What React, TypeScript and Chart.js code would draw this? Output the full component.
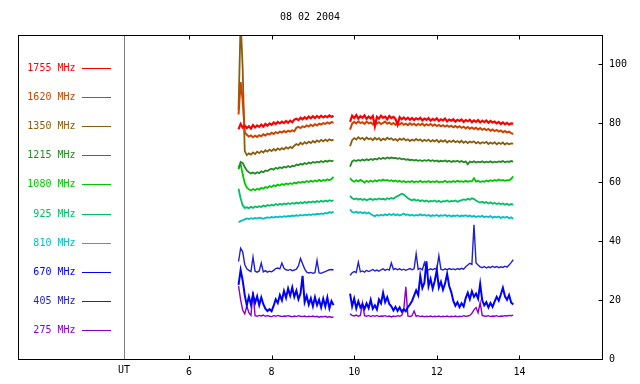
import React, { useEffect, useRef } from 'react';
import { Chart, registerables } from 'chart.js';

Chart.register(...registerables);

// ---------- axis / layout constants ----------
const TITLE = '08 02 2004';
const X_MIN = 1.86;
const X_MAX = 16.0;
const Y_MIN = 0;
const Y_MAX = 110;
const X_TICKS = [6, 8, 10, 12, 14];
const X_TOP_TICKS = [6, 8, 10, 12, 14];
const Y_TICKS = [0, 20, 40, 60, 80, 100];
const UT_HOUR = 4.43;
const UT_LABEL = 'UT';

// sampling of the two observation segments (hours UT)
const SEG1_START = 7.2;
const SEG2_START = 9.9;
const STEP = 0.05;
const GAP_AT = 9.7;

// ---------- series values (sfu) ----------
// segment 1: 7.20 .. 9.50 h ; segment 2: 9.90 .. 13.85 h
const f1755a = [78.0, 79.8, 78.6, 79.2, 78.4, 79.0, 78.2, 79.4, 78.6, 79.3, 78.8, 79.6, 78.9, 79.8, 79.2, 80.0, 79.5, 80.3, 79.8, 80.5, 80.0, 80.6, 80.1, 80.8, 80.2, 80.9, 80.4, 81.3, 81.6, 81.1, 81.9, 81.4, 82.1, 81.5, 82.3, 81.7, 82.4, 81.8, 82.5, 81.9, 82.6, 82.0, 82.5, 82.1, 82.7, 82.2, 82.6];
const f1755b = [
  80.5, 82.6, 81.8, 82.8, 81.6, 82.4, 81.9, 82.7, 81.5, 82.3,
  81.7, 82.5, 79.0, 82.2, 81.6, 82.6, 81.9, 82.3, 81.4, 82.5,
  81.8, 82.2, 81.5, 79.5, 82.1, 81.4, 82.0, 81.3, 81.9, 81.2,
  81.8, 81.1, 81.7, 81.3, 81.9, 81.0, 81.6, 81.2, 81.8, 80.9,
  81.5, 81.1, 81.7, 80.8, 81.4, 81.0, 81.6, 80.7, 81.3, 80.9,
  81.4, 80.6, 81.2, 80.8, 81.3, 80.5, 81.1, 80.7, 81.2, 80.4,
  81.0, 80.5, 81.1, 80.3, 80.9, 80.4, 81.0, 80.2, 80.8, 80.3,
  80.6, 80.0, 80.5, 79.8, 80.3, 79.7, 80.2, 79.6, 80.0, 79.9];

const f1620a = [83.0, 94.0, 88.0, 77.0, 76.1, 75.5, 75.9, 75.3, 75.8, 75.4, 76.0, 75.6, 76.3, 75.9, 76.5, 76.2, 76.8, 76.4, 77.0, 76.7, 77.2, 76.9, 77.4, 77.0, 77.5, 77.2, 77.6, 77.3, 78.5, 78.8, 78.4, 79.0, 78.7, 79.3, 78.9, 79.5, 79.1, 79.7, 79.3, 79.9, 79.6, 80.1, 79.8, 80.3, 79.9, 80.4, 80.2];
const f1620b = [
  77.9, 79.9, 80.5, 80.0, 80.7, 80.1, 80.4, 79.8, 80.6, 80.0,
  80.3, 79.7, 80.5, 79.9, 80.4, 79.8, 80.2, 80.6, 79.9, 80.3,
  79.7, 80.1, 79.5, 80.0, 79.6, 80.2, 79.5, 79.9, 79.4, 80.0,
  79.5, 79.9, 79.3, 79.8, 79.4, 79.9, 79.2, 79.7, 79.3, 79.8,
  79.2, 79.6, 79.1, 79.5, 79.0, 79.4, 78.9, 79.3, 78.8, 79.2,
  78.7, 79.1, 78.6, 79.0, 78.5, 78.9, 78.3, 78.8, 78.2, 78.6,
  78.1, 78.5, 77.9, 78.4, 77.8, 78.2, 77.7, 78.1, 77.5, 77.9,
  77.4, 77.8, 77.2, 77.6, 77.0, 77.4, 76.9, 77.2, 76.7, 76.4];

const f1350a = [84.6, 115.0, 98.6, 70.6, 69.2, 69.8, 69.4, 70.1, 69.6, 70.4, 69.9, 70.6, 70.1, 70.9, 70.4, 71.1, 70.6, 71.3, 70.8, 71.5, 71.0, 71.6, 71.2, 71.9, 71.4, 72.0, 71.6, 72.4, 73.0, 72.6, 73.4, 72.9, 73.6, 73.1, 73.8, 73.3, 74.0, 73.5, 74.2, 73.7, 74.4, 73.9, 74.5, 74.0, 74.6, 74.2, 74.5];
const f1350b = [
  72.2, 74.3, 75.0, 74.5, 75.3, 74.7, 75.1, 74.4, 75.2, 74.6,
  74.9, 74.3, 75.1, 74.5, 75.0, 74.2, 74.8, 74.4, 75.1, 74.6,
  74.9, 74.3, 74.7, 74.1, 74.8, 74.4, 74.9, 74.2, 74.6, 74.0,
  74.5, 74.1, 74.7, 74.2, 74.6, 73.9, 74.4, 74.0, 74.5, 73.8,
  74.3, 73.9, 74.4, 73.6, 74.2, 73.8, 74.3, 73.5, 74.1, 73.7,
  74.2, 73.6, 74.0, 73.5, 74.1, 73.4, 73.9, 73.3, 73.8, 73.5,
  73.9, 73.2, 73.7, 73.1, 73.6, 73.3, 73.7, 73.0, 73.5, 73.1,
  73.6, 72.9, 73.4, 73.0, 73.5, 72.8, 73.3, 72.9, 73.2, 73.1];

const f1215a = [64.4, 66.9, 66.6, 65.2, 64.0, 63.4, 63.0, 63.3, 62.9, 63.4, 63.1, 63.7, 63.4, 64.0, 63.8, 64.3, 64.6, 64.3, 64.9, 64.6, 65.1, 64.8, 65.3, 65.0, 65.5, 65.1, 65.6, 65.4, 66.0, 65.8, 66.3, 66.0, 66.5, 66.2, 66.7, 66.4, 66.9, 66.6, 67.0, 66.7, 67.2, 66.8, 67.3, 67.0, 67.4, 67.1, 67.4];
const f1215b = [
  65.3, 67.1, 67.5, 67.2, 67.6, 67.3, 67.7, 67.4, 67.8, 67.5,
  67.9, 67.6, 68.0, 67.7, 68.2, 67.9, 68.3, 68.0, 68.4, 68.1,
  68.4, 68.2, 68.3, 68.0, 68.2, 67.8, 68.0, 67.6, 67.8, 67.5,
  67.7, 67.4, 67.6, 67.3, 67.5, 67.2, 67.5, 67.3, 67.6, 67.2,
  67.5, 67.1, 67.4, 67.0, 67.3, 67.1, 67.4, 67.0, 67.3, 66.9,
  67.2, 67.0, 67.3, 66.9, 67.2, 66.8, 67.1, 66.1, 67.0, 66.8,
  67.1, 66.7, 67.0, 66.8, 67.1, 66.7, 67.0, 66.8, 67.1, 66.7,
  67.0, 66.8, 67.1, 66.9, 67.2, 66.8, 67.1, 66.9, 67.2, 67.0];

const f1080a = [65.2, 66.2, 62.7, 59.7, 58.2, 57.6, 57.2, 57.7, 57.3, 57.8, 57.5, 58.1, 57.8, 58.4, 58.1, 58.7, 58.4, 59.0, 58.7, 59.2, 58.9, 59.4, 59.1, 59.6, 59.3, 59.7, 59.4, 59.9, 59.6, 60.1, 59.8, 60.2, 59.9, 60.4, 60.1, 60.5, 60.2, 60.6, 60.3, 60.8, 60.4, 60.8, 60.5, 61.0, 60.7, 61.1, 61.8];
const f1080b = [
  61.4, 60.6, 60.2, 60.7, 60.3, 60.8, 60.4, 59.9, 60.5, 60.1,
  60.6, 60.2, 60.7, 60.3, 60.8, 60.5, 60.9, 60.6, 60.8, 60.4,
  60.7, 60.3, 60.6, 60.2, 60.5, 60.1, 60.4, 60.0, 60.3, 60.1,
  60.4, 60.0, 60.3, 60.1, 60.5, 60.0, 60.3, 60.1, 60.4, 60.0,
  60.3, 60.1, 60.4, 60.0, 60.2, 60.1, 60.5, 60.0, 60.3, 60.1,
  60.4, 60.1, 60.5, 60.2, 60.4, 60.1, 60.5, 60.2, 60.4, 60.3,
  61.4, 60.2, 60.5, 60.1, 60.4, 60.2, 60.6, 60.3, 60.7, 60.4,
  60.8, 60.5, 60.9, 60.6, 60.8, 60.5, 60.7, 60.6, 61.2, 62.0];

const f925a = [57.8, 54.5, 52.2, 51.3, 51.5, 51.2, 51.7, 51.3, 51.8, 51.5, 51.9, 51.6, 52.1, 51.8, 52.3, 52.0, 52.4, 52.1, 52.6, 52.3, 52.7, 52.4, 52.8, 52.5, 52.9, 52.6, 53.0, 52.7, 53.1, 52.8, 53.2, 52.9, 53.3, 53.0, 53.4, 53.1, 53.5, 53.2, 53.6, 53.3, 53.7, 53.4, 53.8, 53.5, 53.9, 53.6, 53.9];
const f925b = [
  55.4, 54.6, 54.2, 54.5, 54.1, 54.4, 54.0, 54.3, 53.9, 54.2,
  54.4, 54.0, 54.3, 54.1, 54.5, 54.2, 54.4, 54.1, 54.6, 54.3,
  54.7, 54.4, 54.9, 55.3, 55.7, 56.1, 55.8, 55.2, 54.6, 54.2,
  53.9, 54.2, 53.8, 54.0, 53.6, 53.9, 53.5, 53.8, 53.4, 53.7,
  53.5, 53.8, 53.4, 53.7, 53.3, 53.6, 53.5, 53.8, 53.4, 53.7,
  53.5, 53.8, 53.4, 53.7, 53.9, 54.2, 54.0, 54.4, 54.1, 54.6,
  54.3, 53.8, 53.4, 53.1, 53.4, 53.0, 53.3, 52.8, 53.2, 52.7,
  53.0, 52.6, 52.9, 52.5, 52.8, 52.4, 52.7, 52.3, 52.6, 52.4];

const f810a = [46.4, 46.8, 47.1, 47.4, 47.7, 47.5, 47.8, 47.6, 47.9, 47.7, 48.0, 47.8, 47.6, 47.9, 48.1, 47.9, 48.2, 48.0, 48.3, 48.1, 48.4, 48.2, 48.5, 48.3, 48.6, 48.4, 48.7, 48.5, 48.8, 48.6, 48.9, 48.7, 49.0, 48.8, 49.1, 48.9, 49.2, 49.0, 49.3, 49.1, 49.4, 49.2, 49.6, 49.4, 49.9, 49.6, 50.1];
const f810b = [
  50.8, 49.9, 49.7, 50.0, 49.6, 49.9, 49.5, 49.8, 49.4, 49.7,
  49.2, 48.8, 48.5, 48.9, 48.6, 49.0, 48.7, 49.1, 48.8, 49.2,
  48.9, 49.2, 48.8, 49.1, 48.7, 49.0, 49.4, 48.9, 49.1, 48.7,
  49.0, 48.6, 48.9, 48.7, 49.1, 48.7, 49.0, 48.6, 48.9, 48.5,
  48.8, 48.6, 48.9, 48.5, 48.8, 48.6, 48.9, 48.5, 48.8, 48.4,
  48.7, 48.5, 48.8, 48.4, 48.7, 48.5, 48.8, 48.4, 48.7, 48.3,
  48.6, 48.2, 48.5, 48.3, 48.6, 48.1, 48.4, 48.2, 48.5, 48.0,
  48.3, 48.1, 48.4, 47.9, 48.2, 48.0, 48.3, 47.8, 48.1, 47.6];

const f670a = [25.2, 30.2, 26.7, 21.7, 18.2, 21.2, 18.5, 21.9, 19.0, 21.3, 18.3, 20.9, 18.6, 17.1, 16.3, 16.9, 16.2, 18.1, 20.3, 19.0, 21.7, 19.9, 23.1, 20.8, 23.9, 21.5, 24.3, 21.1, 23.2, 20.3, 22.2, 28.2, 19.3, 21.4, 18.5, 20.6, 17.9, 21.0, 18.3, 20.1, 17.5, 20.5, 17.8, 20.9, 17.2, 19.7, 18.3];
const f670b = [
  22.2, 17.9, 20.5, 17.2, 19.6, 17.5, 18.6, 17.0, 18.9, 17.3,
  20.1, 17.1, 18.2, 16.8, 20.2, 18.9, 22.5, 19.3, 21.0, 18.7,
  17.9, 16.5, 17.7, 16.3, 17.5, 16.1, 16.9, 16.2, 17.6, 18.5,
  19.7, 21.5, 23.3, 21.7, 28.2, 24.1, 25.9, 33.2, 24.7, 27.2,
  23.9, 26.5, 30.2, 24.3, 26.2, 23.5, 25.6, 28.9, 24.8, 22.7,
  19.7, 18.1, 19.3, 17.6, 18.9, 17.8, 20.7, 22.5, 20.3, 23.0,
  21.1, 22.2, 20.5, 25.5, 19.9, 18.2, 19.3, 17.5, 19.0, 17.7,
  19.5, 21.1, 19.8, 21.9, 24.2, 21.3, 20.1, 21.7, 19.2, 18.5];

const f405a = [33.1, 37.6, 36.4, 32.1, 30.6, 30.1, 29.7, 34.6, 29.8, 29.5, 29.9, 32.6, 29.6, 30.0, 29.5, 29.8, 29.6, 30.1, 30.7, 30.9, 30.6, 32.6, 30.8, 30.3, 30.1, 30.4, 30.0, 30.2, 30.5, 31.6, 34.1, 32.3, 30.6, 29.5, 29.2, 29.4, 29.1, 29.3, 33.5, 29.2, 29.1, 29.4, 29.7, 30.0, 30.3, 30.4, 30.2];
const f405b = [
  28.4, 29.3, 29.7, 29.4, 32.9, 29.6, 29.9, 29.5, 30.1, 29.7,
  30.0, 30.4, 29.9, 30.2, 29.8, 30.3, 30.6, 30.1, 30.5, 30.2,
  32.6, 30.4, 30.7, 30.3, 30.6, 30.2, 30.5, 30.1, 30.4, 30.7,
  30.3, 30.6, 35.7, 30.4, 30.8, 30.3, 32.7, 30.5, 30.2, 30.6,
  30.3, 30.7, 30.4, 35.1, 30.5, 30.2, 30.6, 30.3, 30.7, 30.4,
  30.6, 30.3, 30.7, 30.4, 30.8, 30.5, 31.3, 31.9, 32.5, 32.1,
  45.6, 32.6, 31.9, 31.3, 31.0, 31.4, 30.9, 31.3, 31.0, 31.5,
  31.1, 31.4, 31.0, 31.3, 31.1, 31.5, 31.2, 31.9, 32.7, 33.7];

const f275a = [24.8, 20.1, 16.6, 15.3, 18.0, 15.7, 14.8, 22.8, 14.7, 14.5, 14.8, 14.6, 14.9, 14.5, 14.7, 14.5, 14.4, 14.7, 14.5, 14.8, 14.6, 14.4, 14.6, 14.5, 14.7, 14.5, 14.3, 14.6, 14.4, 14.7, 14.5, 14.4, 14.6, 14.3, 14.5, 14.4, 14.6, 14.3, 14.5, 14.2, 14.4, 14.3, 14.5, 14.2, 14.4, 14.1, 14.3];
const f275b = [
  15.3, 14.8, 14.6, 14.9, 14.5, 14.8, 19.0, 14.7, 14.5, 14.8,
  14.4, 14.7, 14.5, 14.8, 14.4, 14.6, 14.5, 14.7, 14.4, 14.6,
  14.3, 14.6, 14.4, 14.7, 14.5, 14.8, 16.7, 24.5, 14.6, 14.4,
  14.7, 16.3, 14.5, 14.7, 14.4, 14.6, 14.3, 14.5, 14.4, 14.6,
  14.3, 14.5, 14.4, 14.6, 14.3, 14.5, 14.4, 14.6, 14.3, 14.5,
  14.4, 14.6, 14.3, 14.5, 14.4, 14.7, 14.5, 14.6, 14.8, 15.5,
  16.7, 17.5, 15.7, 19.1, 14.8, 14.6, 14.5, 14.7, 14.4, 14.6,
  14.5, 14.7, 14.4, 14.6, 14.5, 14.7, 14.6, 14.8, 14.7, 14.9];

const LABELS = ['1755 MHz', '1620 MHz', '1350 MHz', '1215 MHz', '1080 MHz', '925 MHz', '810 MHz', '670 MHz', '405 MHz', '275 MHz'];
const COLORS = ['#ff0000', '#cc4400', '#8a5c0c', '#238b23', '#00c800', '#00c064', '#00c0c0', '#0000ff', '#2222cc', '#8800cc'];
const WIDTHS = [2.2, 2, 1.8, 1.8, 1.8, 1.8, 1.8, 2, 1.4, 1.4];
const SEG1 = [f1755a, f1620a, f1350a, f1215a, f1080a, f925a, f810a, f670a, f405a, f275a];
const SEG2 = [f1755b, f1620b, f1350b, f1215b, f1080b, f925b, f810b, f670b, f405b, f275b];

const FONT = "'DejaVu Sans Mono', 'Liberation Mono', monospace";

function buildPoints(a: number[], b: number[]) {
  const pts: { x: number; y: number | null }[] = [];
  a.forEach((v, i) => pts.push({ x: +(SEG1_START + i * STEP).toFixed(3), y: v }));
  pts.push({ x: GAP_AT, y: null });
  b.forEach((v, j) => pts.push({ x: +(SEG2_START + j * STEP).toFixed(3), y: v }));
  return pts;
}

const decorPlugin = {
  id: 'decor',
  beforeDatasetsDraw(chart: any) {
    const { ctx, chartArea: a, scales } = chart;
    ctx.save();
    // UT separator line
    const ux = Math.round(scales.x.getPixelForValue(UT_HOUR)) + 0.5;
    ctx.strokeStyle = '#808080';
    ctx.lineWidth = 1;
    ctx.beginPath();
    ctx.moveTo(ux, a.top);
    ctx.lineTo(ux, a.bottom);
    ctx.stroke();
    // legend (label + colour sample), inside the plot frame on the left
    ctx.font = `10px ${FONT}`;
    ctx.textAlign = 'right';
    ctx.textBaseline = 'middle';
    LABELS.forEach((lab, k) => {
      const y = Math.round(a.top + 32.7 + k * 29.18);
      ctx.fillStyle = COLORS[k];
      ctx.fillText(lab, a.left + 57.5, y);
      ctx.strokeStyle = COLORS[k];
      ctx.beginPath();
      ctx.moveTo(a.left + 64, y + 0.5);
      ctx.lineTo(a.left + 93, y + 0.5);
      ctx.stroke();
    });
    ctx.restore();
  },
  afterDraw(chart: any) {
    const { ctx, chartArea: a, scales } = chart;
    ctx.save();
    ctx.strokeStyle = '#000';
    ctx.lineWidth = 1;
    const L = Math.round(a.left) + 0.5;
    const R = Math.round(a.right) + 0.5;
    const T = Math.round(a.top) + 0.5;
    const B = Math.round(a.bottom) + 0.5;
    ctx.strokeRect(L, T, R - L, B - T);
    ctx.beginPath();
    X_TICKS.forEach((v) => {
      const px = Math.round(scales.x.getPixelForValue(v)) + 0.5;
      ctx.moveTo(px, B);
      ctx.lineTo(px, B - 4);
    });
    X_TOP_TICKS.forEach((v) => {
      const px = Math.round(scales.x.getPixelForValue(v)) + 0.5;
      ctx.moveTo(px, T);
      ctx.lineTo(px, T + 4);
    });
    Y_TICKS.forEach((v) => {
      const py = Math.round(scales.y.getPixelForValue(v)) + 0.5;
      ctx.moveTo(R, py);
      ctx.lineTo(R - 4, py);
    });
    ctx.stroke();
    // title and UT label
    ctx.fillStyle = '#000';
    ctx.font = `10px ${FONT}`;
    ctx.textAlign = 'center';
    ctx.textBaseline = 'middle';
    ctx.fillText(TITLE, (a.left + a.right) / 2, 17);
    ctx.fillText(UT_LABEL, Math.round(scales.x.getPixelForValue(UT_HOUR)), a.bottom + 11);
    ctx.restore();
  },
};

export default function App() {
  const ref = useRef<HTMLCanvasElement | null>(null);
  useEffect(() => {
    if (!ref.current) return;
    const datasets = LABELS.map((lab, k) => ({
      label: lab,
      data: buildPoints(SEG1[k], SEG2[k]),
      borderColor: COLORS[k],
      backgroundColor: COLORS[k],
      borderWidth: WIDTHS[k],
      pointRadius: 0,
      tension: 0,
      spanGaps: false,
      fill: false,
    }));
    const chart = new Chart(ref.current, {
      type: 'line',
      data: { datasets },
      options: {
        animation: false,
        responsive: false,
        devicePixelRatio: 1,
        layout: { padding: { left: 18, top: 35, right: 0, bottom: 0 } },
        plugins: { legend: { display: false }, title: { display: false }, tooltip: { enabled: false } },
        scales: {
          x: {
            type: 'linear',
            position: 'bottom',
            min: X_MIN,
            max: X_MAX,
            grid: { display: false, drawTicks: false },
            border: { display: false },
            ticks: { color: '#000', font: { family: FONT, size: 10 }, padding: 7, maxRotation: 0, autoSkip: false },
            afterBuildTicks: (s: any) => { s.ticks = X_TICKS.map((v) => ({ value: v })); },
            afterFit: (s: any) => { s.height = 25; },
          },
          y: {
            type: 'linear',
            position: 'right',
            min: Y_MIN,
            max: Y_MAX,
            grid: { display: false, drawTicks: false },
            border: { display: false },
            ticks: { color: '#000', font: { family: FONT, size: 10 }, padding: 7 },
            afterBuildTicks: (s: any) => { s.ticks = Y_TICKS.map((v) => ({ value: v })); },
            afterFit: (s: any) => { s.width = 38; },
          },
        },
      } as any,
      plugins: [decorPlugin],
    });
    return () => chart.destroy();
  }, []);
  return (
    <div style={{ position: 'absolute', left: 0, top: 0, width: 640, height: 384, background: '#fff' }}>
      <canvas ref={ref} width={640} height={384} style={{ display: 'block' }} />
    </div>
  );
}
